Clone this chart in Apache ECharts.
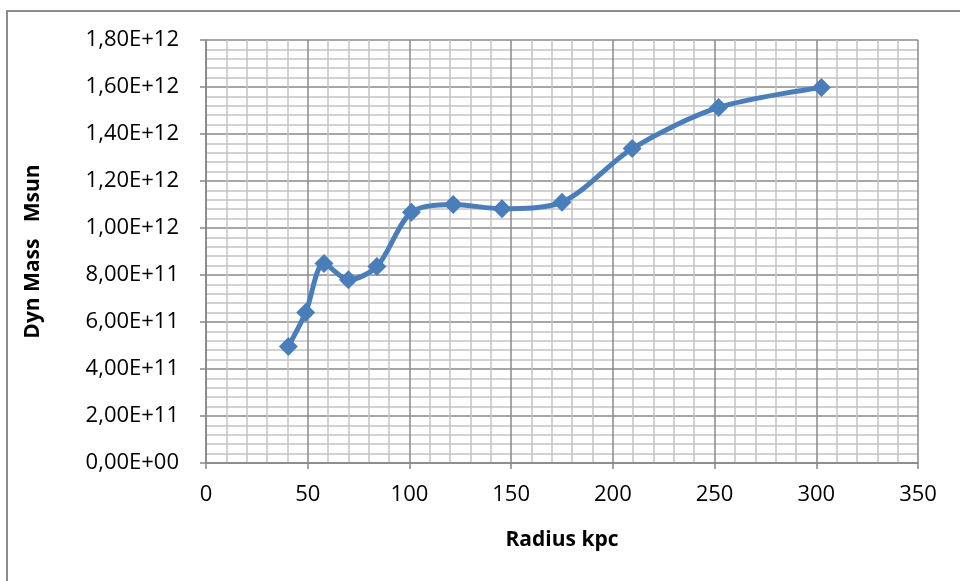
<!DOCTYPE html>
<html>
<head>
<meta charset="utf-8">
<script src="https://cdn.jsdelivr.net/npm/echarts@6/dist/echarts.min.js"></script>
<style>
  html, body { margin: 0; padding: 0; background: #fff; }
  #chart { width: 960px; height: 581px; }
</style>
</head>
<body>
<div id="chart"></div>
<script>
// 数据：半径 (kpc) 与动力学质量 (Msun)
const radius = [40.5, 49, 58, 70, 84, 101, 121.5, 145.5, 175, 209.5, 252, 302.5];
const dynMass = [4.96e11, 6.4e11, 8.49e11, 7.8e11, 8.36e11, 1.067e12, 1.1e12, 1.082e12, 1.11e12, 1.338e12, 1.513e12, 1.598e12];

const fontFamily = '"Open Sans", sans-serif';

// 1,80E+12 style label
function sciLabel(v) {
  if (v === 0) return '0,00E+00';
  const e = Math.floor(Math.log10(v) + 1e-9);
  const m = v / Math.pow(10, e);
  return m.toFixed(2).replace('.', ',') + 'E+' + String(e).padStart(2, '0');
}

const myChart = echarts.init(document.getElementById('chart'));

const option = {
  animation: false,
  backgroundColor: '#fff',
  grid: {
    left: 206,
    right: 42,
    top: 40,
    bottom: 118,
  },
  graphic: [
    {
      type: 'rect',
      shape: { x: 7, y: 11, width: 1000, height: 1000 },
      style: { fill: 'none', stroke: '#8c8c8c', lineWidth: 2 },
      silent: true,
    },
  ],
  xAxis: {
    type: 'value',
    min: 0,
    max: 350,
    interval: 50,
    name: 'Radius kpc',
    nameLocation: 'middle',
    nameGap: 67,
    nameTextStyle: { fontFamily, fontSize: 21, fontWeight: 'bold', color: '#000' },
    axisLine: { show: true, lineStyle: { color: '#868686', width: 1.5 } },
    axisTick: { show: true, length: 6, lineStyle: { color: '#868686', width: 1.5 } },
    axisLabel: { fontFamily, fontSize: 22, color: '#000', margin: 21 },
    splitLine: { show: true, lineStyle: { color: '#8a8a8a', width: 1.5 } },
    minorTick: { show: false, splitNumber: 5 },
    minorSplitLine: { show: true, lineStyle: { color: '#c4c4c4', width: 1.5 } },
  },
  yAxis: {
    type: 'value',
    min: 0,
    max: 1.8e12,
    interval: 2e11,
    name: 'Dyn Mass   Msun',
    nameLocation: 'middle',
    nameGap: 162,
    nameTextStyle: { fontFamily, fontSize: 21, fontWeight: 'bold', color: '#000' },
    axisLine: { show: true, lineStyle: { color: '#868686', width: 1.5 } },
    axisTick: { show: true, length: 6, lineStyle: { color: '#868686', width: 1.5 } },
    axisLabel: { fontFamily, fontSize: 22, color: '#000', margin: 27, formatter: sciLabel },
    splitLine: { show: true, lineStyle: { color: '#8a8a8a', width: 1.5 } },
    minorTick: { show: false, splitNumber: 5 },
    minorSplitLine: { show: true, lineStyle: { color: '#c4c4c4', width: 1.5 } },
  },
  series: [
    {
      type: 'line',
      data: radius.map((r, i) => [r, dynMass[i]]),
      smooth: 0.3,
      symbol: 'diamond',
      symbolSize: 19,
      lineStyle: { color: '#4a7ebb', width: 5 },
      itemStyle: { color: '#4a7ebb' },
    },
  ],
};
myChart.setOption(option);
</script>
</body>
</html>
